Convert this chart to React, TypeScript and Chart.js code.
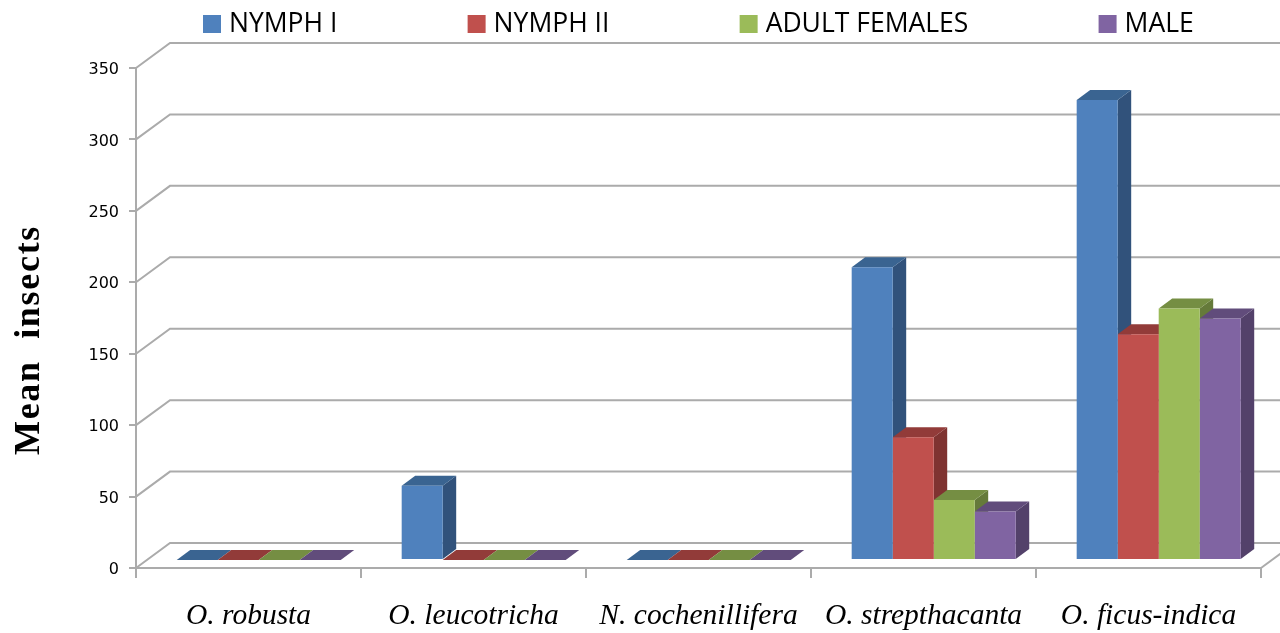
import React, { useEffect, useRef } from "react";
import { Chart, registerables } from "chart.js";

Chart.register(...registerables);

const categories = ["O. robusta", "O. leucotricha", "N. cochenillifera", "O. strepthacanta", "O. ficus-indica"];
const nymph1 = [0, 52, 0, 205, 322];
const nymph2 = [0, 0, 0, 86, 158];
const adultFemales = [0, 0, 0, 42, 176];
const male = [0, 0, 0, 34, 169];
const seriesNames = ["NYMPH I", "NYMPH II", "ADULT FEMALES", "MALE"];
const frontColors = ["#4F81BD", "#C0504D", "#9BBB59", "#8064A2"];
const topColors = ["#3A6491", "#923B39", "#758E43", "#614C7B"];
const sideColors = ["#31527B", "#7F3331", "#657A3A", "#53416A"];
const yTicks = [0, 50, 100, 150, 200, 250, 300, 350];

const GRID = "#ABABAB";
const WALL_DX = 34, WALL_DY = -25;
const BAR_DX = 10.2, BAR_DY = -8;
const SIDE_DX = 13.5, SIDE_DY = -10;

const poly = (ctx: CanvasRenderingContext2D, pts: number[][], fill: string) => {
  ctx.beginPath();
  pts.forEach(([x, y], i) => (i ? ctx.lineTo(x, y) : ctx.moveTo(x, y)));
  ctx.closePath();
  ctx.fillStyle = fill;
  ctx.fill();
};

const threeD = {
  id: "threeD",
  beforeLayout(chart: any) {
    const legend = chart.legend;
    if (legend && !legend.__wrapped) {
      const fit = legend.fit;
      legend.fit = function () {
        fit.call(this);
        this.height = 68;
      };
      legend.__wrapped = true;
    }
  },
  afterLayout(chart: any) {
    const legend = chart.legend;
    const p = legend.options.labels.padding;
    legend.left = 208.25 - p;
    legend.right = 1500;
    legend.top = 10.75 - p;
  },
  beforeDraw(chart: any) {
    const y = chart.scales.y;
    if (!y.__wrapped) {
      const drawTitle = y.drawTitle;
      y.drawTitle = function () {
        this.ctx.save();
        this.ctx.translate(0, 22);
        this.ctx.letterSpacing = "1.7px";
        drawTitle.call(this);
        this.ctx.restore();
      };
      const drawLabels = y.drawLabels;
      y.drawLabels = function (area: any) {
        this.ctx.save();
        this.ctx.translate(0, 2);
        drawLabels.call(this, area);
        this.ctx.restore();
      };
      y.__wrapped = true;
    }
  },
  beforeDatasetsDraw(chart: any) {
    const { ctx, chartArea, scales } = chart;
    const { left, right } = chartArea;
    // walls and floor behind the bars
    ctx.save();
    ctx.strokeStyle = GRID;
    ctx.lineWidth = 2;
    scales.y.ticks.forEach((t: any) => {
      const py = scales.y.getPixelForValue(t.value);
      ctx.beginPath();
      ctx.moveTo(left, py);
      ctx.lineTo(left + WALL_DX, py + WALL_DY);
      ctx.lineTo(chart.width, py + WALL_DY);
      ctx.stroke();
    });
    const py0 = scales.y.getPixelForValue(0);
    ctx.beginPath();
    ctx.moveTo(right, py0);
    ctx.lineTo(right + WALL_DX, py0 + WALL_DY);
    ctx.stroke();
    // side and top faces, left to right
    chart.data.datasets.forEach((_: any, di: number) => {
      chart.getDatasetMeta(di).data.forEach((el: any) => {
        const { x, y, base, width } = el.getProps(["x", "y", "base", "width"], true);
        const l = x - width / 2 + BAR_DX;
        const r = x + width / 2 + BAR_DX;
        const t = y + BAR_DY;
        const b = base + BAR_DY;
        if (b - t > 0.5) {
          poly(ctx, [[r, t], [r + SIDE_DX, t + SIDE_DY], [r + SIDE_DX, b + SIDE_DY], [r, b]], sideColors[di]);
        }
        poly(ctx, [[l, t], [l + SIDE_DX, t + SIDE_DY], [r + SIDE_DX, t + SIDE_DY], [r, t]], topColors[di]);
      });
    });
    ctx.restore();
  },
  beforeDatasetDraw(chart: any) {
    chart.ctx.save();
    chart.ctx.translate(BAR_DX, BAR_DY);
  },
  afterDatasetDraw(chart: any) {
    chart.ctx.restore();
  },
};

export default function App() {
  const ref = useRef<HTMLCanvasElement>(null);
  useEffect(() => {
    document.body.style.margin = "0";
    const values = [nymph1, nymph2, adultFemales, male];
    const chart = new Chart(ref.current as HTMLCanvasElement, {
      type: "bar",
      data: {
        labels: categories,
        datasets: seriesNames.map((label, i) => ({
          label,
          data: values[i],
          backgroundColor: frontColors[i],
          borderWidth: 0,
          categoryPercentage: 0.729,
          barPercentage: 1,
          clip: false,
        })),
      },
      options: {
        responsive: false,
        animation: false,
        layout: { padding: { left: 0, top: 0, right: 19, bottom: 0 } },
        plugins: {
          tooltip: { enabled: false },
          title: { display: false },
          legend: {
            position: "top",
            align: "start",
            labels: {
              usePointStyle: true,
              pointStyle: "rect",
              boxWidth: 7.5,
              boxHeight: 18,
              padding: 135.5,
              color: "#000",
              font: { family: "'Open Sans'", size: 26.5 },
            },
          },
        },
        scales: {
          x: {
            afterFit: (s: any) => { s.height = 65; },
            grid: { drawOnChartArea: false, offset: true, color: GRID, lineWidth: 2, tickLength: 10 },
            border: { color: GRID, width: 2 },
            ticks: {
              color: "#000",
              maxRotation: 0,
              autoSkip: false,
              padding: 21,
              font: { family: "'Liberation Serif'", style: "italic", size: 29.5 },
            },
          },
          y: {
            min: 0,
            max: 350,
            afterFit: (s: any) => { s.width = 136; },
            afterBuildTicks: (s: any) => { s.ticks = yTicks.map((value) => ({ value })); },
            grid: { drawOnChartArea: false, color: GRID, lineWidth: 2, tickLength: 7 },
            border: { color: GRID, width: 2 },
            ticks: {
              color: "#000",
              padding: 10,
              font: { family: "'DejaVu Sans'", size: 16 },
            },
            title: {
              display: true,
              text: "Mean  insects",
              color: "#000",
              padding: { top: 8, bottom: 0 },
              font: { family: "'Liberation Serif'", weight: "bold", size: 36 },
            },
          },
        },
      },
      plugins: [threeD],
    } as any);
    return () => chart.destroy();
  }, []);
  return (
    <div style={{ position: "absolute", left: 0, top: 0, width: 1280, height: 633 }}>
      <canvas ref={ref} width={1280} height={633} />
    </div>
  );
}
